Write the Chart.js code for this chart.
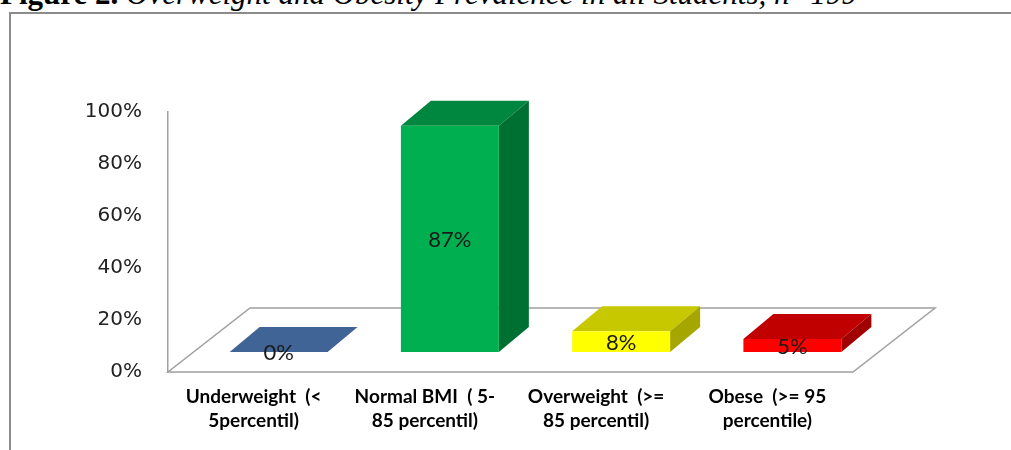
<!DOCTYPE html>
<html>
<head>
<meta charset="utf-8">
<script src="https://cdn.jsdelivr.net/npm/chart.js@4.4.1/dist/chart.umd.min.js"></script>
<style>
  html, body { margin: 0; padding: 0; background: #fff; overflow: hidden; }
  #wrap { position: relative; width: 1011px; height: 450px; overflow: hidden; }
  #title {
    position: absolute; left: 0; top: -24px; white-space: nowrap;
    font-family: 'Liberation Serif', 'Times New Roman', serif;
    font-size: 31px; line-height: 36px; color: #000;
  }
  #title i { font-style: italic; }
  #frame {
    position: absolute; left: 9px; top: 12px; width: 1100px; height: 500px;
    border-left: 2px solid #8c8c8c; border-top: 2px solid #8c8c8c;
  }
  #chart { position: absolute; left: 0; top: 0; }
</style>
</head>
<body>
<div id="wrap">
  <div id="title"><b>Figure 2.</b> <i>Overweight and Obesity Prevalence in all Students, n=199</i></div>
  <div id="frame"></div>
  <canvas id="chart" width="1011" height="450"></canvas>
</div>
<script>
// categories (two-line labels) and values in percent
var categories = [
    ['Underweight  (<', '5percentil)'],
    ['Normal BMI  ( 5-', '85 percentil)'],
    ['Overweight  (>=', '85 percentil)'],
    ['Obese  (>= 95', 'percentile)']
];
var prevalence = [0, 87, 8, 5];
var valueTicks = [0, 20, 40, 60, 80, 100];

// face colours per bar: front, top, side
var frontColors = ['#4F81BD', '#00B050', '#FFFF00', '#FF0000'];
var topColors = ['#3F6495', '#00873F', '#C8C800', '#C00000'];
var sideColors = ['#2F4D75', '#006F32', '#A6A600', '#A00000'];

// 3d depth offsets
var FLOOR_DX = 82, FLOOR_DY = -64;   // full floor depth
var BAR_SHIFT_X = 25, BAR_SHIFT_Y = -20; // bars sit partway into the floor
var BAR_DX = 30, BAR_DY = -25;       // bar depth

var fakeThreeD = {
    id: 'fakeThreeD',
    beforeDatasetsDraw: function (chart) {
        var ctx = chart.ctx;
        var a = chart.chartArea;
        // floor
        ctx.save();
        ctx.beginPath();
        ctx.moveTo(a.left, a.bottom);
        ctx.lineTo(a.right, a.bottom);
        ctx.lineTo(a.right + FLOOR_DX, a.bottom + FLOOR_DY);
        ctx.lineTo(a.left + FLOOR_DX, a.bottom + FLOOR_DY);
        ctx.closePath();
        ctx.fillStyle = '#ffffff';
        ctx.fill();
        ctx.strokeStyle = '#a0a0a0';
        ctx.lineWidth = 1.5;
        ctx.stroke();
        ctx.restore();

        // bars are drawn shifted into the depth of the floor
        ctx.save();
        ctx.translate(BAR_SHIFT_X, BAR_SHIFT_Y);
        var meta = chart.getDatasetMeta(0);
        meta.data.forEach(function (bar, i) {
            var p = bar.getProps(['x', 'y', 'base', 'width'], true);
            var l = p.x - p.width / 2, r = p.x + p.width / 2;
            // top face
            ctx.beginPath();
            ctx.moveTo(l, p.y);
            ctx.lineTo(r, p.y);
            ctx.lineTo(r + BAR_DX, p.y + BAR_DY);
            ctx.lineTo(l + BAR_DX, p.y + BAR_DY);
            ctx.closePath();
            ctx.fillStyle = topColors[i];
            ctx.fill();
            // side face
            if (p.base - p.y > 0.5) {
                ctx.beginPath();
                ctx.moveTo(r, p.y);
                ctx.lineTo(r + BAR_DX, p.y + BAR_DY);
                ctx.lineTo(r + BAR_DX, p.base + BAR_DY);
                ctx.lineTo(r, p.base);
                ctx.closePath();
                ctx.fillStyle = sideColors[i];
                ctx.fill();
            }
        });
    },
    afterDatasetsDraw: function (chart) {
        var ctx = chart.ctx;
        var meta = chart.getDatasetMeta(0);
        // value labels centred on the front faces
        ctx.font = '22px Lato';
        ctx.fillStyle = '#1a1a1a';
        ctx.textAlign = 'center';
        ctx.textBaseline = 'middle';
        meta.data.forEach(function (bar, i) {
            var p = bar.getProps(['x', 'y', 'base'], true);
            ctx.fillText(prevalence[i] + '%', p.x, (p.y + p.base) / 2 + 1);
        });
        ctx.restore();
    }
};

var ctx = document.getElementById('chart');
var chart = new Chart(ctx, {
    type: 'bar',
    data: {
        labels: categories,
        datasets: [{
            data: prevalence,
            backgroundColor: frontColors,
            borderWidth: 0,
            barPercentage: 0.572,
            categoryPercentage: 1,
            clip: false
        }]
    },
    plugins: [fakeThreeD],
    options: {
        responsive: false,
        devicePixelRatio: 1,
        animation: false,
        layout: { padding: { top: 112, right: 158, left: 0, bottom: 0 } },
        plugins: {
            legend: { display: false },
            tooltip: { enabled: false },
            title: { display: false }
        },
        scales: {
            x: {
                grid: { display: false, drawTicks: false },
                border: { display: false },
                ticks: {
                    padding: 13,
                    maxRotation: 0,
                    autoSkip: false,
                    color: '#000',
                    font: { family: 'Lato', size: 19, weight: 'bold', lineHeight: '24px' }
                },
                afterFit: function (scale) { scale.height = 78; }
            },
            y: {
                min: 0,
                max: 100,
                afterBuildTicks: function (scale) {
                    scale.ticks = valueTicks.map(function (v) { return { value: v }; });
                },
                grid: { display: false, drawTicks: false },
                border: { display: true, color: '#a0a0a0', width: 1.5 },
                ticks: {
                    padding: 26,
                    color: '#222',
                    font: { family: 'DejaVu Sans', size: 20 },
                    callback: function (v) { return v + '%'; }
                },
                afterFit: function (scale) { scale.width = 168; }
            }
        }
    }
});
</script>
</body>
</html>
